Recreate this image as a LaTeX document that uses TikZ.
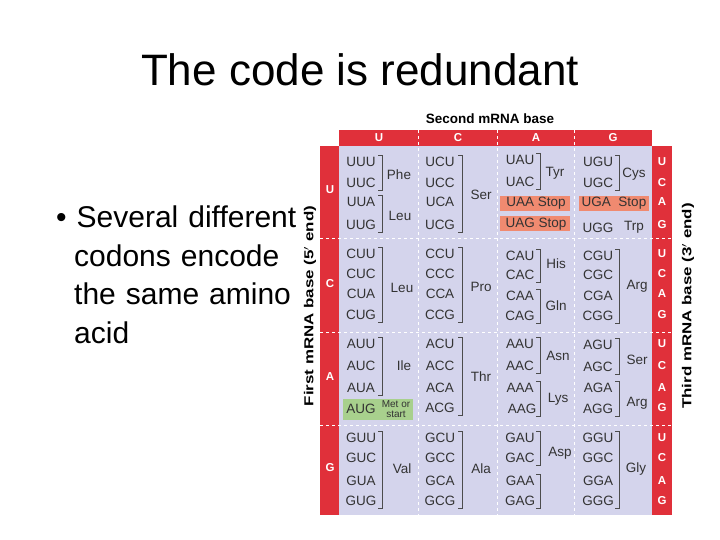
\documentclass[tikz,border=0pt]{standalone}
\usepackage{fontspec}
\setmainfont{Liberation Sans}
\begin{document}
\begin{tikzpicture}[x=1pt,y=-1pt,
  cod/.style={font=\fontsize{13.5}{14}\selectfont, text=black!80, inner sep=0pt, anchor=center},
  aa/.style={font=\fontsize{13.5}{14}\selectfont, text=black!80, inner sep=0pt},
  hdr/.style={font=\bfseries\fontsize{11.5}{12}\selectfont, text=white, inner sep=0pt},
  br/.style={draw=black!70, line width=0.7pt},
  dsh/.style={draw=white, dashed, line width=0.6pt}]
\definecolor{hred}{HTML}{E0303A}
\definecolor{body}{HTML}{D4D4EC}
\definecolor{stopc}{HTML}{F08A70}
\definecolor{metc}{HTML}{A8D08D}
\useasboundingbox (0,0) rectangle (720,540);
\fill[white] (0,0) rectangle (720,540);
\node[font=\fontsize{44}{48}\selectfont, inner sep=0pt] (title) at (360,70) {The code is redundant};
\node[font=\fontsize{30}{38.5}\selectfont, align=left, anchor=north west, inner sep=0pt, text width=260pt] (bul) at (56,206)
 {\textbullet\ Several different\\\hspace*{0.6em}codons encode\\\hspace*{0.6em}the same amino\\\hspace*{0.6em}acid};
% table
\fill[body] (339,146) rectangle (652,515);
\fill[hred] (339,130) rectangle (652,146);
\fill[hred] (320,146) rectangle (339,515);
\fill[hred] (652,146) rectangle (672,515);
\foreach \y in {238,332,425} \draw[dsh] (320,\y) -- (672,\y);
\foreach \x in {418,497,574} \draw[dsh] (\x,130) -- (\x,515);
\node[font=\bfseries\fontsize{13.5}{14}\selectfont, inner sep=0pt] (smb) at (490,119) {Second mRNA base};
\node[font=\bfseries\fontsize{13}{14}\selectfont, rotate=90, inner sep=0pt] (fmb) at (310,306) {\scalebox{1.3}[1]{First mRNA base (5$'$ end)}};
\node[font=\bfseries\fontsize{13}{14}\selectfont, rotate=90, inner sep=0pt] (tmb) at (688,306) {\scalebox{1.3}[1]{Third mRNA base (3$'$ end)}};
\foreach \l/\x in {U/379,C/458,A/536,G/613} \node[hdr] at (\x,138) {\l};
\foreach \l/\y in {U/190,C/284,A/377,G/468} \node[hdr] at (330,\y) {\l};
\foreach \ya/\yb/\yc/\yd in {162/183/202/225,254/274/294/315,344/366/388/408,438/458/481/501}{
  \node[hdr] at (662,\ya) {U}; \node[hdr] at (662,\yb) {C};
  \node[hdr] at (662,\yc) {A}; \node[hdr] at (662,\yd) {G};}
% boxes
\fill[stopc] (500,196) rectangle (570,211);
\fill[stopc] (500,216) rectangle (570,231);
\fill[stopc] (579,196) rectangle (649,211);
\fill[metc] (343,399) rectangle (413,420);
% bracket macro: x, ytop, ybot
\newcommand\cbrk[3]{\draw[br] (#1-4,#2-7) -- (#1,#2-7) -- (#1,#3+7) -- (#1-4,#3+7);}
% Row U
\node[cod] at (361,162) {UUU}; \node[cod] at (361,183) {UUC};
\node[cod] at (361,202) {UUA}; \node[cod] at (361,225) {UUG};
\cbrk{382}{162}{183} \cbrk{382}{202}{225}
\node[aa] at (399,175) {Phe}; \node[aa] at (400,216) {Leu};
\node[cod] at (440,162) {UCU}; \node[cod] at (440,183) {UCC};
\node[cod] at (440,202) {UCA}; \node[cod] at (440,225) {UCG};
\cbrk{462}{162}{225} \node[aa] at (481,195) {Ser};
\node[cod] at (520,160) {UAU}; \node[cod] at (520,182) {UAC};
\cbrk{540}{160}{182} \node[aa] at (555,173) {Tyr};
\node[cod] at (536,203) {UAA Stop}; \node[cod] at (536,224) {UAG Stop};
\node[cod] at (614,203) {UGA\ \ Stop};
\node[cod] at (598,162) {UGU}; \node[cod] at (598,183) {UGC};
\cbrk{619}{162}{183} \node[aa] at (634,174) {Cys};
\node[cod] at (598,228) {UGG}; \node[aa] at (634,227) {Trp};
% Row C
\node[cod] at (361,254) {CUU}; \node[cod] at (361,274) {CUC};
\node[cod] at (361,294) {CUA}; \node[cod] at (361,315) {CUG};
\cbrk{382}{254}{315} \node[aa] at (402,288) {Leu};
\node[cod] at (440,254) {CCU}; \node[cod] at (440,274) {CCC};
\node[cod] at (440,294) {CCA}; \node[cod] at (440,315) {CCG};
\cbrk{462}{254}{315} \node[aa] at (481,287) {Pro};
\node[cod] at (520,256) {CAU}; \node[cod] at (520,275) {CAC};
\node[cod] at (520,296) {CAA}; \node[cod] at (520,316) {CAG};
\cbrk{540}{256}{275} \cbrk{540}{296}{316}
\node[aa] at (556,264) {His}; \node[aa] at (556,306) {Gln};
\node[cod] at (598,256) {CGU}; \node[cod] at (598,275) {CGC};
\node[cod] at (598,296) {CGA}; \node[cod] at (598,316) {CGG};
\cbrk{619}{256}{316} \node[aa] at (637,286) {Arg};
% Row A
\node[cod] at (361,344) {AUU}; \node[cod] at (361,366) {AUC};
\node[cod] at (361,388) {AUA};
\cbrk{382}{344}{388} \node[aa] at (404,366) {Ile};
\node[cod] at (361,409) {AUG};
\node[font=\fontsize{10}{9.5}\selectfont, align=center, inner sep=0pt, text=black!80] at (396,409) {Met or\\start};
\node[cod] at (440,344) {ACU}; \node[cod] at (440,366) {ACC};
\node[cod] at (440,388) {ACA}; \node[cod] at (440,408) {ACG};
\cbrk{462}{344}{408} \node[aa] at (481,377) {Thr};
\node[cod] at (520,344) {AAU}; \node[cod] at (520,366) {AAC};
\node[cod] at (520,388) {AAA}; \node[cod] at (522,409) {AAG};
\cbrk{540}{344}{366} \cbrk{540}{388}{409}
\node[aa] at (558,356) {Asn}; \node[aa] at (558,399) {Lys};
\node[cod] at (598,345) {AGU}; \node[cod] at (598,367) {AGC};
\node[cod] at (598,388) {AGA}; \node[cod] at (598,409) {AGG};
\cbrk{619}{345}{367} \cbrk{619}{388}{409}
\node[aa] at (637,360) {Ser}; \node[aa] at (637,403) {Arg};
% Row G
\node[cod] at (361,438) {GUU}; \node[cod] at (361,458) {GUC};
\node[cod] at (361,481) {GUA}; \node[cod] at (361,501) {GUG};
\cbrk{382}{438}{501} \node[aa] at (402,469) {Val};
\node[cod] at (440,438) {GCU}; \node[cod] at (440,458) {GCC};
\node[cod] at (440,481) {GCA}; \node[cod] at (440,501) {GCG};
\cbrk{462}{438}{501} \node[aa] at (481,469) {Ala};
\node[cod] at (520,438) {GAU}; \node[cod] at (520,458) {GAC};
\node[cod] at (520,481) {GAA}; \node[cod] at (520,501) {GAG};
\cbrk{540}{438}{458} \cbrk{540}{481}{501}
\node[aa] at (560,453) {Asp};
\node[cod] at (598,438) {GGU}; \node[cod] at (598,458) {GGC};
\node[cod] at (598,481) {GGA}; \node[cod] at (598,501) {GGG};
\cbrk{619}{438}{501} \node[aa] at (636,469) {Gly};
\end{tikzpicture}
\end{document}
